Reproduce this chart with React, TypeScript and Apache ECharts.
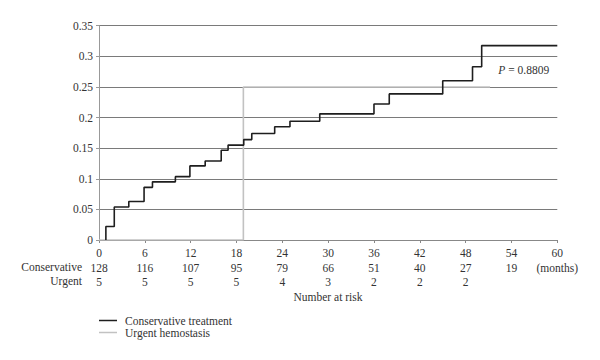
import React, { useEffect, useRef } from "react";
import * as echarts from "echarts";

// Cumulative incidence (step points: [month, value])
const conservativeTimes = [0.9, 0.9, 2.0, 3.9, 5.9, 7.0, 10.0, 11.9, 13.9, 16.0, 16.9, 18.95, 20.0, 23.0, 25.0, 28.9, 36.0, 38.0, 45.0, 48.9, 50.1, 60];
const conservativeValues = [0, 0.022, 0.054, 0.063, 0.086, 0.095, 0.1035, 0.121, 0.129, 0.1465, 0.155, 0.164, 0.174, 0.185, 0.194, 0.206, 0.222, 0.2386, 0.26, 0.283, 0.3175, 0.3175];
const urgentTimes = [0, 18.9, 51.2];
const urgentValues = [0, 0.25, 0.25];

// Number at risk table
const riskMonths = [0, 6, 12, 18, 24, 30, 36, 42, 48, 54, 60];
const conservativeRisk = ["128", "116", "107", "95", "79", "66", "51", "40", "27", "19"];
const urgentRisk = ["5", "5", "5", "5", "4", "3", "2", "2", "2"];
const unitLabel = "(months)";

const seriesNames = ["Conservative treatment", "Urgent hemostasis"];
const rowTitles = ["Conservative", "Urgent"];
const tableTitle = "Number at risk";
const pValueText = "0.8809";

const FONT = "'Liberation Serif', 'DejaVu Serif', serif";
const TXT = "#333";

export default function App() {
  const ref = useRef<HTMLDivElement>(null);
  useEffect(() => {
    if (!ref.current) return;
    const chart = echarts.init(ref.current, undefined, { renderer: "svg" });
    const cons = conservativeTimes.map((t, i) => [t, conservativeValues[i]]);
    const urg = urgentTimes.map((t, i) => [t, urgentValues[i]]);
    const idx = (v: number) => riskMonths.indexOf(Math.round(v));
    const baseX = {
      type: "value",
      min: 0,
      max: 60,
      interval: 6,
      gridIndex: 0,
      position: "bottom",
      splitLine: { show: false },
    };
    chart.setOption({
      animation: false,
      textStyle: { fontFamily: FONT },
      grid: {
        left: 99,
        right: 42.7,
        top: 25.7,
        bottom: 120,
        outerBoundsMode: "none",
        containLabel: false,
      },
      legend: {
        data: seriesNames,
        orient: "vertical",
        left: 99,
        top: 314.5,
        padding: 0,
        icon: "rect",
        itemWidth: 18,
        itemHeight: 1.5,
        itemGap: 0,
        textStyle: {
          fontFamily: FONT,
          fontSize: 11.5,
          color: TXT,
          lineHeight: 12,
          padding: [0, 0, 0, 3],
        },
      },
      xAxis: [
        {
          ...baseX,
          axisLine: { show: true, lineStyle: { color: "#888", width: 1 } },
          axisTick: { show: true, length: 3, lineStyle: { color: "#888" } },
          axisLabel: { margin: 7, fontSize: 11.5, color: TXT, fontFamily: FONT },
        },
        {
          ...baseX,
          offset: 15,
          axisLine: { show: false },
          axisTick: { show: false },
          axisLabel: {
            margin: 7,
            fontSize: 11.5,
            color: TXT,
            fontFamily: FONT,
            formatter: (v: number) => {
              const i = idx(v);
              if (i === riskMonths.length - 1) return unitLabel;
              return conservativeRisk[i] ?? "";
            },
          },
        },
        {
          ...baseX,
          offset: 29,
          axisLine: { show: false },
          axisTick: { show: false },
          axisLabel: {
            margin: 7,
            fontSize: 11.5,
            color: TXT,
            fontFamily: FONT,
            formatter: (v: number) => urgentRisk[idx(v)] ?? "",
          },
        },
      ],
      yAxis: {
        type: "value",
        min: 0,
        max: 0.35,
        interval: 0.05,
        axisLine: { show: true, lineStyle: { color: "#999", width: 1 } },
        axisTick: { show: true, length: 3, lineStyle: { color: "#999" } },
        axisLabel: { margin: 6, fontSize: 11.5, color: TXT, fontFamily: FONT },
        splitLine: { show: true, lineStyle: { color: "#7a7a7a", width: 1 } },
      },
      series: [
        {
          name: seriesNames[1],
          type: "line",
          step: "end",
          data: urg,
          symbol: "none",
          lineStyle: { color: "#c2c2c2", width: 1.6 },
          itemStyle: { color: "#c2c2c2" },
          z: 3,
        },
        {
          name: seriesNames[0],
          type: "line",
          step: "end",
          data: cons,
          symbol: "none",
          lineStyle: { color: "#1e1e1e", width: 1.6 },
          itemStyle: { color: "#1e1e1e" },
          z: 4,
        },
      ],
      graphic: [
        {
          type: "text",
          right: 600 - 82,
          top: 268.3 - 7,
          style: { text: rowTitles[0], font: `11.5px ${FONT}`, fill: TXT, align: "right" },
        },
        {
          type: "text",
          right: 600 - 82,
          top: 282.3 - 7,
          style: { text: rowTitles[1], font: `11.5px ${FONT}`, fill: TXT, align: "right" },
        },
        {
          type: "text",
          x: 328,
          y: 297,
          style: {
            text: tableTitle,
            font: `11.5px ${FONT}`,
            fill: TXT,
            align: "center",
            verticalAlign: "middle",
          },
        },
        {
          type: "text",
          x: 498.3,
          y: 70,
          style: {
            text: "{i|P} = " + pValueText,
            font: `11.5px ${FONT}`,
            fill: TXT,
            verticalAlign: "middle",
            rich: { i: { fontStyle: "italic", fontSize: 11.5, fontFamily: FONT, fill: TXT } },
          },
        },
      ],
    });
    return () => chart.dispose();
  }, []);
  return (
    <div
      ref={ref}
      style={{ position: "absolute", left: 0, top: 0, width: 600, height: 360, background: "#fff" }}
    />
  );
}
